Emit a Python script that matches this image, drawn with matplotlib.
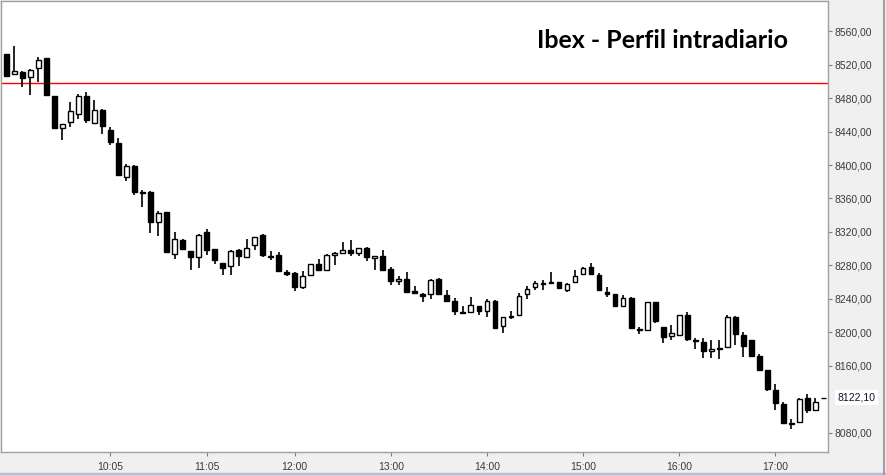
import matplotlib
matplotlib.use("Agg")
from matplotlib import pyplot as plt
from matplotlib.ticker import FuncFormatter

# 5-minute candles, 09:00 to 17:30
opens = [8532, 8509, 8511.4, 8505.4, 8516.1, 8527.3, 8483, 8444.2, 8451.6, 8461.2,
         8483, 8450, 8466.3, 8442.4, 8426.5, 8385.8, 8399.4, 8367.9, 8368.3, 8331.6,
         8343.5, 8293.7, 8310.8, 8297.6, 8289.7, 8319.6, 8299.2, 8283.4, 8279, 8298.9,
         8289.7, 8304.1, 8316.9, 8291.7, 8292.9, 8271.8, 8271.4, 8253.9, 8268.2, 8282.2,
         8274.2, 8292.5, 8294.9, 8298.9, 8294.9, 8300.9, 8288.5, 8291.7, 8276.2, 8261,
         8264.2, 8249.1, 8245.5, 8245.9, 8264.2, 8245.1, 8237.9, 8224, 8223.9, 8231.9,
         8225.1, 8237.9, 8207.6, 8218, 8220.4, 8245.9, 8253.8, 8258.6, 8260.2, 8260.2,
         8250.6, 8260.2, 8269.8, 8278.2, 8269, 8248.3, 8245.9, 8231.1, 8241.1, 8204.4,
         8202.8, 8235.9, 8206.4, 8196, 8196.8, 8221.2, 8191.2, 8188.5, 8177.7, 8181.3,
         8182.5, 8218.4, 8197.2, 8190.4, 8172.1, 8154.6, 8131.4, 8114.7, 8092, 8093.6,
         8121.5, 8107.5, 8122.1]
highs = [8532.5, 8542, 8512, 8515, 8529.3, 8528.1, 8483, 8449, 8475.1, 8484.3,
         8487.1, 8477.1, 8467, 8445.6, 8432.5, 8401.8, 8400.6, 8369.9, 8369, 8345.5,
         8344.3, 8319.6, 8311.5, 8297.6, 8317.2, 8324, 8300, 8283.4, 8298.5, 8299.7,
         8312.1, 8314.1, 8318.1, 8297.7, 8296.1, 8275, 8272.2, 8273, 8281.8, 8288.2,
         8293.7, 8295.7, 8307.7, 8310.1, 8300.9, 8302.1, 8291.3, 8298.9, 8278.2, 8267,
         8271.8, 8255.9, 8247.1, 8263.8, 8265, 8251.1, 8241.1, 8231.9, 8242.7, 8231.9,
         8239.9, 8238.7, 8218.8, 8225.1, 8247.1, 8255.8, 8261.8, 8263, 8272.2, 8260.2,
         8259, 8275, 8277.8, 8283, 8271, 8254.2, 8245.9, 8245.1, 8242.3, 8206,
         8236.3, 8236.7, 8206.4, 8209.2, 8220.7, 8224.3, 8192.8, 8193.2, 8191.2, 8190.4,
         8220.7, 8219.1, 8200.4, 8190.4, 8174.5, 8155.4, 8138.2, 8117.5, 8096.4, 8121.5,
         8126.7, 8121.5, 8122.1]
lows = [8506, 8507.4, 8493, 8483.5, 8499.4, 8483.5, 8444, 8430.3, 8445.2, 8455.2,
        8449.6, 8448.4, 8436.8, 8424.4, 8387.8, 8380.6, 8363.8, 8349.9, 8318.8, 8314.8,
        8295.7, 8288, 8299.6, 8274.1, 8276.6, 8292.9, 8281.7, 8268.2, 8268.2, 8279,
        8288.5, 8298.1, 8289.7, 8286.2, 8273, 8267, 8249.1, 8252.3, 8267, 8273,
        8274.2, 8281, 8294.9, 8290.9, 8290.9, 8285, 8275, 8275, 8257, 8256.3,
        8247.9, 8246.3, 8235.9, 8240.3, 8246.3, 8237.9, 8221.1, 8223.1, 8223.1, 8220.3,
        8218, 8204.4, 8199.2, 8216, 8219.6, 8239.9, 8250.6, 8250.6, 8259, 8251.9,
        8247.9, 8260.2, 8269, 8269.8, 8250.3, 8242.3, 8230.3, 8230.3, 8204.8, 8198,
        8202.8, 8211.2, 8187.3, 8190.5, 8196, 8190.1, 8180.1, 8169.3, 8169.3, 8168.1,
        8181.7, 8185.3, 8170.5, 8170.5, 8154.6, 8130.6, 8107.5, 8091.6, 8084.8, 8093.6,
        8104.3, 8106.7, 8122.1]
closes = [8506, 8512.6, 8503.8, 8513.8, 8525.7, 8483.5, 8444, 8449, 8465.1, 8483,
          8453.6, 8466.3, 8446.4, 8427.2, 8388.6, 8399.4, 8367.4, 8366.5, 8331.6, 8343.1,
          8295.7, 8311.6, 8299.6, 8289.7, 8316.4, 8298.8, 8286.1, 8276.6, 8297.7, 8290.9,
          8300.9, 8314.1, 8292.1, 8289.7, 8273, 8269.8, 8253.9, 8267.8, 8281.8, 8274.2,
          8292.9, 8294.5, 8298.5, 8294.9, 8300.9, 8290.1, 8291.3, 8275, 8261.8, 8263.8,
          8247.9, 8247.1, 8243.5, 8263, 8246.3, 8237.9, 8225.1, 8223.1, 8233.1, 8225.1,
          8237.1, 8205.6, 8218, 8220, 8243.1, 8251.9, 8259, 8257.4, 8259, 8252.6,
          8258.2, 8267.8, 8277, 8269.8, 8250.3, 8245.9, 8231.1, 8241.1, 8204.8, 8202.8,
          8236.3, 8213.2, 8194.4, 8199.2, 8220.7, 8192, 8189.7, 8177.3, 8180.5, 8179.7,
          8218.4, 8198, 8183.3, 8171.3, 8155.4, 8132.2, 8116.3, 8092.4, 8090.8, 8120.3,
          8107.5, 8117.5, 8122.1]

start_minutes = 9 * 60
bar_minutes = 5
tick_labels = ['10:05', '11:05', '12:00', '13:00', '14:00', '15:00', '16:00', '17:00']
ytick_values = [8080, 8160, 8200, 8240, 8280, 8320, 8360, 8400, 8440, 8480, 8520, 8560]
ref_level = 8498
last_price = 8122.10
title = 'Ibex - Perfil intradiario'

plt.rcParams['font.family'] = ['Liberation Sans', 'DejaVu Sans']

fig = plt.figure(figsize=(8.87, 4.75), dpi=100, facecolor='#f0f0f0')
ax = fig.add_axes([1 / 887, 23 / 475, 827 / 887, 451 / 475])
ax.set_facecolor('white')

# candles
x = list(range(len(opens)))
bottoms = [min(o, c) for o, c in zip(opens, closes)]
heights = [abs(c - o) for o, c in zip(opens, closes)]
faces = ['black' if c < o else 'white' for o, c in zip(opens, closes)]
ax.vlines(x, lows, highs, color='black', linewidth=1.2, zorder=2)
ax.bar(x, heights, bottom=bottoms, width=0.6, color=faces, edgecolor='black',
       linewidth=1.0, zorder=3)

ax.axhline(ref_level, color='#ff0000', linewidth=1.0, zorder=1)

ax.set_xlim(-0.66, 102.58)
ax.set_ylim(8057.2, 8595.9)

tick_pos = [(int(t[:2]) * 60 + int(t[3:]) - start_minutes) / bar_minutes for t in tick_labels]
ax.set_xticks(tick_pos)
ax.set_xticklabels(tick_labels)
ax.yaxis.tick_right()
ax.set_yticks(ytick_values)
ax.yaxis.set_major_formatter(FuncFormatter(lambda v, p: ('%.2f' % v).replace('.', ',')))
ax.tick_params(axis='both', colors='#808080', labelcolor='#3c3c3c', labelsize=7.5,
               length=3, width=0.8, direction='out')
ax.tick_params(axis='y', pad=2)
ax.tick_params(axis='x', pad=4)
for s in ax.spines.values():
    s.set_color('#a0a0a0')
    s.set_linewidth(1.0)

ax.text(0.952, 0.895, title, transform=ax.transAxes, ha='right', va='baseline',
        fontsize=18, fontweight='bold', family=['Lato', 'DejaVu Sans'], color='black')

ax.annotate(('%.2f' % last_price).replace('.', ','), xy=(1.0, last_price),
            xycoords=('axes fraction', 'data'), xytext=(7, 0), textcoords='offset points',
            ha='left', va='center', fontsize=7.5, color='#101030',
            bbox=dict(boxstyle='square,pad=0.25', facecolor='white', edgecolor='none'),
            annotation_clip=False)

# window border
fig.add_artist(plt.Line2D([0, 1], [1.5 / 475, 1.5 / 475], color='#a9c4e0', linewidth=2.5))
fig.add_artist(plt.Line2D([884.5 / 887, 884.5 / 887], [0, 1], color='#a0a0a0', linewidth=1.5))

fig.savefig('out.png', dpi=100, facecolor=fig.get_facecolor())
